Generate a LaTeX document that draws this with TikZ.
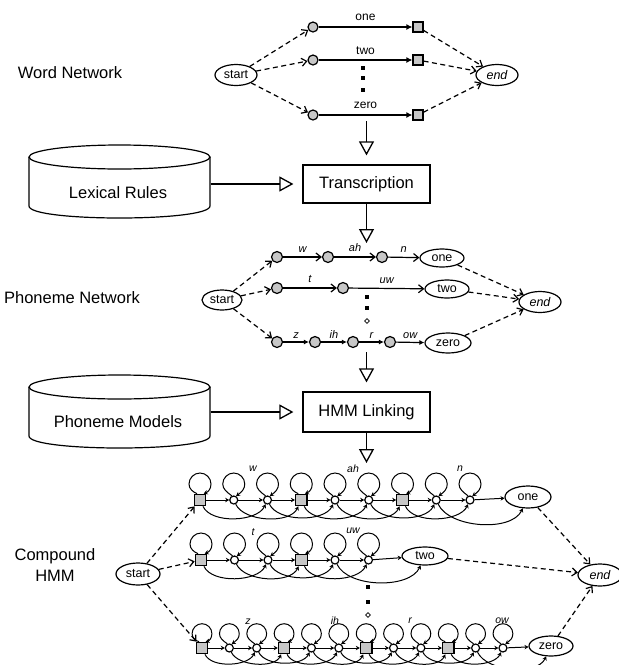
\documentclass[tikz,border=0pt]{standalone}
\usepackage{fontspec}
\setmainfont{Liberation Sans}
\usetikzlibrary{arrows.meta,shapes.geometric}
\definecolor{lgray}{gray}{0.78}
\begin{document}
\begin{tikzpicture}[x=1pt,y=-1pt,line width=1.2pt,
  bigtxt/.style={font=\fontsize{16.5}{21}\selectfont},
  term/.style={draw,ellipse,inner sep=0pt,minimum width=42pt,minimum height=21pt,font=\fontsize{12.5}{14}\selectfont},
  wcirc/.style={draw,circle,fill=lgray,inner sep=0pt,minimum size=10pt},
  wsq/.style={draw,rectangle,fill=lgray,inner sep=0pt,minimum size=10pt},
  pcirc/.style={draw,circle,fill=lgray,inner sep=0pt,minimum size=11pt},
  hbig/.style={draw,rectangle,fill=lgray,inner sep=0pt,minimum size=11.5pt},
  hsm/.style={draw,circle,fill=white,inner sep=0pt,minimum size=8pt},
  procbox/.style={draw,rectangle,inner sep=0pt,minimum width=127pt,bigtxt},
  flow/.style={line width=1.3pt,-{Triangle[open,length=14pt,width=15pt]}},
  dsh/.style={dash pattern=on 5pt off 3.5pt,-{Straight Barb[length=5pt,width=8pt]}},
  solidarr/.style={-{Latex[length=6pt,width=6pt]}},
  phtr/.style={-{Straight Barb[length=5pt,width=8pt]}},
  phfill/.style={-{Latex[length=5pt,width=5pt]}},
  wlab/.style={font=\fontsize{12}{14}\selectfont},
  plab/.style={font=\itshape\fontsize{11}{13}\selectfont},
  hlab/.style={font=\itshape\fontsize{10.5}{12}\selectfont},
  tr/.style={line width=1pt,-{Stealth[length=4pt,width=4.5pt]}},
  % self transition: a round loop standing on top of the state
  selfloop/.style={line width=1pt,-{Stealth[length=4pt,width=4.5pt]},
    to path={(\tikztostart.115)
      .. controls ([shift={(-7*#1,-8*#1)}]\tikztostart.center) and ([shift={(-11*#1,-11*#1)}]\tikztostart.center)
      .. ([shift={(-11*#1,-16*#1)}]\tikztostart.center)
      .. controls ([shift={(-11*#1,-22*#1)}]\tikztostart.center) and ([shift={(-6*#1,-27*#1)}]\tikztostart.center)
      .. ([shift={(0,-27*#1)}]\tikztostart.center)
      .. controls ([shift={(6*#1,-27*#1)}]\tikztostart.center) and ([shift={(11*#1,-22*#1)}]\tikztostart.center)
      .. ([shift={(11*#1,-16*#1)}]\tikztostart.center)
      .. controls ([shift={(11*#1,-11*#1)}]\tikztostart.center) and ([shift={(8*#1,-8*#1)}]\tikztostart.center)
      .. (\tikztostart.60)}},
  selfloop/.default=1,
  skiparc/.style={line width=1pt,-{Stealth[length=4pt,width=4.5pt]},out=-65,in=-115,looseness=0.8},
  dotm/.style={fill,rectangle,inner sep=0pt,minimum size=3.5pt},
  dotd/.style={draw,diamond,inner sep=0pt,minimum size=5pt,line width=0.7pt},
]
\useasboundingbox (0,0) rectangle (619,665);

% ---------------- word network ----------------
\node[bigtxt] (lword) at (70,73) {Word Network};
\node[term] (wstart) at (236,75) {start};
\node[term,font=\itshape\fontsize{12.5}{14}\selectfont] (wend) at (497,75) {end};
\node[wcirc] (wc1) at (313,27) {};
\node[wcirc] (wc2) at (313,60) {};
\node[wcirc] (wc3) at (313,115) {};
\node[wsq] (wq1) at (418,27) {};
\node[wsq] (wq2) at (418,60) {};
\node[wsq] (wq3) at (418,115) {};
\draw[solidarr] (wc1) -- node[wlab,above=2pt] {one} (wq1);
\draw[solidarr] (wc2) -- node[wlab,above=1pt] {two} (wq2);
\draw[solidarr] (wc3) -- node[wlab,above=2pt] {zero} (wq3);
\foreach \k in {1,2,3}{
  \draw[dsh] (wstart) -- (wc\k);
  \draw[dsh] (wq\k) -- (wend);
}
\node[dotm] (wd1) at (363,68) {};
\node[dotm] (wd2) at (363,78) {};
\node[dotm] (wd3) at (363,90) {};

% ---------------- lexical rules / transcription ----------------
\node[inner sep=0pt,minimum width=181pt,minimum height=73pt] (lex) at (119.5,184) {};
\draw (119.5,157) ellipse[x radius=90.5,y radius=12];
\draw (29,157) -- (29,206) .. controls (29,222) and (210,222) .. (210,206) -- (210,157);
\node[bigtxt] (lextxt) at (118,193) {Lexical Rules};
\node[procbox,minimum height=38pt] (trans) at (366.5,184) {Transcription};
\coordinate (wnout) at (366.5,121);
\draw[flow,shorten >=9pt] (wnout) -- (trans);
\draw[flow,shorten >=9pt] (lex.east) -- (trans.west);
\coordinate (pnin) at (366.5,243);
\draw[flow] (trans) -- (pnin);

% ---------------- phoneme network ----------------
\node[bigtxt] (lphon) at (72,298) {Phoneme Network};
\node[term,minimum width=40pt,minimum height=20pt] (pstart) at (222,300) {start};
\node[term,font=\itshape\fontsize{12.5}{14}\selectfont] (pend) at (540,302) {end};
\node[pcirc] (pa1) at (277,257) {};
\node[pcirc] (pa2) at (328,257) {};
\node[pcirc] (pa3) at (382,257) {};
\node[term,minimum width=44pt,minimum height=18pt] (pone) at (442,258) {one};
\node[pcirc] (pb1) at (277,288) {};
\node[pcirc] (pb2) at (343,288) {};
\node[term,minimum width=44pt,minimum height=18pt] (ptwo) at (447,289) {two};
\node[pcirc] (pz1) at (277,342) {};
\node[pcirc] (pz2) at (315,342) {};
\node[pcirc] (pz3) at (353,342) {};
\node[pcirc] (pz4) at (390,342) {};
\node[term,minimum width=46pt,minimum height=20pt] (pzero) at (448,343) {zero};
\draw[phtr] (pa1) -- node[plab,above=1pt] {w} (pa2);
\draw[phtr] (pa2) -- node[plab,above=1pt] {ah} (pa3);
\draw[phtr] (pa3) -- node[plab,above=1pt] {n} (pone);
\draw[phtr] (pb1) -- node[plab,above=1pt] {t} (pb2);
\draw[phtr] (pb2) -- node[plab,above=1pt] {uw} (ptwo);
\draw[phfill] (pz1) -- node[plab,above=0pt] {z} (pz2);
\draw[phfill] (pz2) -- node[plab,above=0pt] {ih} (pz3);
\draw[phfill] (pz3) -- node[plab,above=0pt] {r} (pz4);
\draw[phfill] (pz4) -- node[plab,above=0pt] {ow} (pzero);
\draw[dsh] (pstart) -- (pa1);
\draw[dsh] (pstart) -- (pb1);
\draw[dsh] (pstart) -- (pz1);
\draw[dsh] (pone) -- (pend);
\draw[dsh] (ptwo) -- (pend);
\draw[dsh] (pzero) -- (pend);
\node[dotm] (pd1) at (367,297) {};
\node[dotm] (pd2) at (367,308) {};
\node[dotd] (pd3) at (367,321) {};

% ---------------- phoneme models / HMM linking ----------------
\node[inner sep=0pt,minimum width=181pt,minimum height=73pt] (pmod) at (119.5,412) {};
\draw (119.5,387) ellipse[x radius=90.5,y radius=12];
\draw (29,387) -- (29,436) .. controls (29,452) and (210,452) .. (210,436) -- (210,387);
\node[bigtxt] (pmodtxt) at (118,422) {Phoneme Models};
\node[procbox,minimum height=40pt] (hmml) at (366.5,412) {HMM Linking};
\coordinate (pnout) at (366.5,352);
\draw[flow,shorten >=9pt] (pnout) -- (hmml);
\draw[flow,shorten >=9pt] (pmod.east) -- (hmml.west);
\coordinate (hmin) at (366.5,463);
\draw[flow] (hmml) -- (hmin);

% ---------------- compound HMM ----------------
\node[bigtxt,align=center] (lcomp) at (55,565) {Compound\\HMM};
\node[term,minimum width=44pt,minimum height=22pt] (cstart) at (138,574) {start};
\node[term,minimum width=44pt,minimum height=22pt,font=\itshape\fontsize{12.5}{14}\selectfont] (cend) at (600,575) {end};

% row for "one"
\foreach \i/\st in {0/hbig,1/hsm,2/hsm,3/hbig,4/hsm,5/hsm,6/hbig,7/hsm,8/hsm}{
  \node[\st] (ha\i) at ({200+33.75*\i},500) {};
}
\node[term,minimum width=46pt,minimum height=22pt,alias=ha9] (hone) at (528,497) {one};
\foreach \i in {0,...,8}{ \draw[selfloop] (ha\i) to (ha\i); }
\foreach \i [evaluate=\i as \j using int(\i+1)] in {0,...,8}{ \draw[tr] (ha\i) -- (ha\j); }
\foreach \i [evaluate=\i as \j using int(\i+2)] in {0,...,7}{ \draw[skiparc] (ha\i) to (ha\j); }
\node[hlab] (hlw) at (253,469) {w};
\node[hlab] (hlah) at (353,469) {ah};
\node[hlab] (hln) at (460,469) {n};

% row for "two"
\foreach \i/\st in {0/hbig,1/hsm,2/hsm,3/hbig,4/hsm,5/hsm}{
  \node[\st] (hb\i) at ({201+33.5*\i},560) {};
}
\node[term,minimum width=46pt,minimum height=18pt,alias=hb6] (htwo) at (425,556) {two};
\foreach \i in {0,...,5}{ \draw[selfloop] (hb\i) to (hb\i); }
\foreach \i [evaluate=\i as \j using int(\i+1)] in {0,...,5}{ \draw[tr] (hb\i) -- (hb\j); }
\foreach \i [evaluate=\i as \j using int(\i+2)] in {0,...,4}{ \draw[skiparc] (hb\i) to (hb\j); }
\node[hlab] (hlt) at (253,532) {t};
\node[hlab] (hluw) at (353,531) {uw};

% row for "zero"
\foreach \i/\st in {0/hbig,1/hsm,2/hsm,3/hbig,4/hsm,5/hsm,6/hbig,7/hsm,8/hsm,9/hbig,10/hsm,11/hsm}{
  \node[\st] (hc\i) at ({202+27.36*\i},648) {};
}
\node[term,minimum width=44pt,minimum height=20pt,alias=hc12] (hzero) at (551,646) {zero};
\foreach \i in {0,...,11}{ \draw[selfloop=0.9] (hc\i) to (hc\i); }
\foreach \i [evaluate=\i as \j using int(\i+1)] in {0,...,11}{ \draw[tr] (hc\i) -- (hc\j); }
\foreach \i [evaluate=\i as \j using int(\i+2)] in {0,...,10}{ \draw[skiparc] (hc\i) to (hc\j); }
\node[hlab] (hlz) at (248,622) {z};
\node[hlab] (hlih) at (335,621) {ih};
\node[hlab] (hlr) at (410,621) {r};
\node[hlab] (hlow) at (502,621) {ow};

\node[dotm] (hd1) at (368,587) {};
\node[dotm] (hd2) at (368,602) {};
\node[dotd] (hd3) at (368,615) {};

\draw[dsh] (cstart) -- (ha0);
\draw[dsh] (cstart) -- (hb0);
\draw[dsh] (cstart) -- (hc0);
\draw[dsh] (hone) -- (cend);
\draw[dsh] (htwo) -- (cend);
\draw[dsh] (hzero) -- (cend);
\end{tikzpicture}
\end{document}
